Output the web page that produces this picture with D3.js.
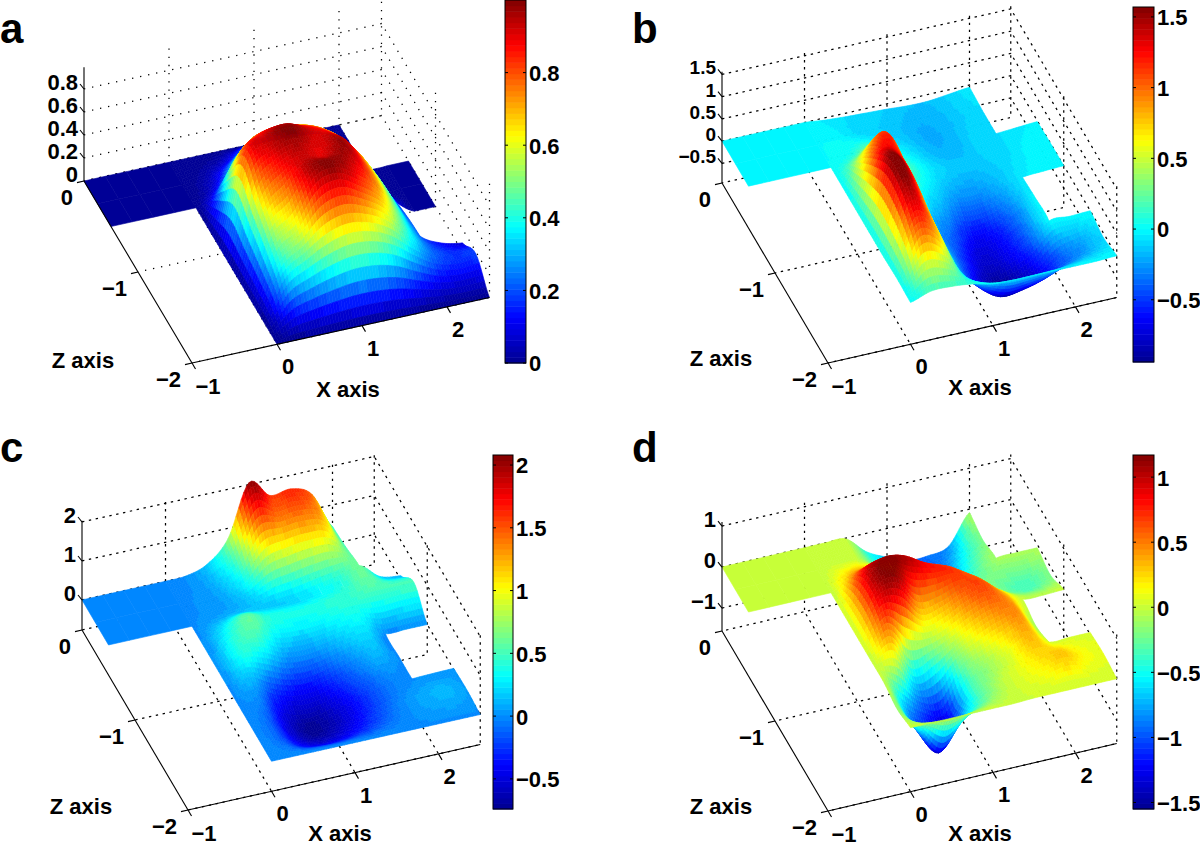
<!DOCTYPE html>
<html><head><meta charset="utf-8">
<script src="https://cdn.jsdelivr.net/npm/d3@7/dist/d3.min.js"></script>
<style>html,body{margin:0;padding:0;background:#fff}svg{display:block}
text{font-family:"Liberation Sans",Arial,sans-serif;font-weight:bold;fill:#000}</style>
</head><body><svg id="chart" width="1200" height="847"></svg>
<script>
// ---------- values ----------
const xValues = [-1,-.75,-.5,-.25,0,.25,.5,.75,1,1.25,1.5,1.75,2,2.25,2.5];
const zValues = [0,-.25,-.5,-.75,-1,-1.25,-1.5,-1.75,-2];
const n = null;
const surfaceA = [
[0,0,0,0,0,0,0,0,0,0,0,0,0,n,n],
[0,0,0,0,0,.03,.1,.22,.28,.27,.22,.15,0,n,n],
[0,0,0,0,0,.13,.38,.52,.55,.5,.42,.28,0,0,0],
[n,n,n,n,0,.5,.72,.75,.75,.7,.58,.38,.03,0,0],
[n,n,n,n,0,.8,.93,.99,.92,.85,.7,.45,.15,0,0],
[n,n,n,n,0,.65,.85,.93,.9,.97,.76,.48,.2,n,n],
[n,n,n,n,0,.5,.66,.93,.98,.88,.72,.45,.22,.12,.08],
[n,n,n,n,0,.33,.45,.55,.6,.58,.5,.35,.22,.17,.18],
[n,n,n,n,0,0,0,0,0,0,0,0,0,0,0]];
const surfaceB = [
[0,0,0,0,0,-.05,-.08,-.1,-.12,-.15,-.15,-.1,-.05,n,n],
[0,0,0,0,0,0,-.05,-.1,-.15,-.2,-.18,-.12,-.08,n,n],
[0,0,0,0,0,.1,.3,.05,-.08,-.18,-.18,-.1,-.08,-.05,-.02],
[n,n,n,n,0,.7,1.1,.25,-.02,-.12,-.15,-.12,-.08,-.02,0],
[n,n,n,n,0,1.2,1.15,.1,-.15,-.3,-.3,-.18,-.05,-.02,0],
[n,n,n,n,0,1.55,1.15,-.1,-.4,-.65,-.6,-.35,-.02,n,n],
[n,n,n,n,0,1.45,.95,-.1,-.55,-.8,-.7,-.45,-.02,-.02,0],
[n,n,n,n,.02,1.0,.75,-.1,-.6,-.9,-.85,-.7,-.42,-.25,-.1],
[n,n,n,n,0,.15,.15,.1,0,-.02,-.02,-.02,-.02,-.02,0]];
const surfaceC = [
[0,0,0,0,0,.02,.2,.74,2.05,1.6,1.65,1.4,.45,n,n],
[0,0,0,0,0,.02,.1,.4,1.1,1.2,1.25,1.15,.5,n,n],
[0,0,0,0,0,.05,.1,.15,.2,.25,.35,.45,.6,.2,.1],
[n,n,n,n,0,.32,.58,.42,.38,.38,.42,.45,.5,.5,.5],
[n,n,n,n,0,.4,.38,.12,.05,.1,.2,.25,0,0,0],
[n,n,n,n,0,.08,-.25,-.42,-.42,-.25,-.05,.1,0,n,n],
[n,n,n,n,0,-.1,-.5,-.72,-.65,-.45,-.22,-.05,0,.02,.03],
[n,n,n,n,0,-.12,-.4,-.5,-.45,-.32,-.15,0,.08,.12,.05],
[n,n,n,n,0,0,0,0,0,0,0,0,0,0,0]];
const surfaceD = [
[0,0,0,0,0,0,-.02,-.45,-.7,-.9,-.9,-.78,-.08,n,n],
[0,0,0,0,0,.02,0,-.3,-.7,-1,-.95,-.55,-.2,n,n],
[0,0,0,0,0,.35,.4,.3,-.3,-.8,-.7,-.35,-.1,-.08,-.08],
[n,n,n,n,0,.9,1.15,1.05,.8,.6,.25,-.1,-.3,-.35,-.2],
[n,n,n,n,0,.9,.95,.35,.4,.6,.65,.3,0,-.02,0],
[n,n,n,n,0,.3,-.45,-.3,-.02,.25,.45,.45,-.1,n,n],
[n,n,n,n,0,-.7,-1.1,-1.25,-.35,-.1,.1,.35,.05,.05,.05],
[n,n,n,n,-.1,-.75,-1.4,-.8,-.35,-.05,.08,.2,.3,.15,.08],
[n,n,n,n,0,0,0,0,0,0,.02,.02,.02,.02,.02]];
const xTicks = [-1,0,1,2];
const zTicks = [0,-1,-2];
const yTicksA = [0,.2,.4,.6,.8], yTicksB = [-.5,0,.5,1,1.5], yTicksC = [0,1,2], yTicksD = [-1,0,1];
const barTicksA = [0,.2,.4,.6,.8], barTicksB = [-.5,0,.5,1,1.5], barTicksC = [-.5,0,.5,1,1.5,2], barTicksD = [-1.5,-1,-.5,0,.5,1];
const colorLimitsA = [0,1], colorLimitsB = [-.94,1.57], colorLimitsC = [-.74,2.08], colorLimitsD = [-1.55,1.17];
const axisLimitsA = [0,.99], axisLimitsB = [-.94,1.56], axisLimitsC = [-.77,2.03], axisLimitsD = [-1.56,1.1];

// ---------- layout ----------
const panels = [
 {name:"a",grid:surfaceA,yTicks:yTicksA,barTicks:barTicksA,clim:colorLimitsA,ylim:axisLimitsA,o:[84,181],ex:[85,-18.7],ez:[54,91],ey:115,yFont:22,
  letter:[0,43],zLab:[83,360],xLab:[348,389],bar:[505,526,0,363],barScale:[363,0],dash:"1.3,6.9",fmt:d=>d===0?"0":d.toFixed(1)},
 {name:"b",grid:surfaceB,yTicks:yTicksB,barTicks:barTicksB,clim:colorLimitsB,ylim:axisLimitsB,o:[722,183],ex:[82.5,-18.7],ez:[53,90],ey:44.5,yFont:19,
  letter:[632,43],zLab:[721,358],xLab:[980,387],bar:[1133,1154,7,362],barScale:[362,7],dash:"2.4,4.6",fmt:d=>String(d)},
 {name:"c",grid:surfaceC,yTicks:yTicksC,barTicks:barTicksC,clim:colorLimitsC,ylim:axisLimitsC,o:[82,630],ex:[83.5,-18.7],ez:[53,90],ey:39,yFont:22,
  letter:[0,462],zLab:[81,806],xLab:[340,833],bar:[493,513,455,809],barScale:[809,455],dash:"2.4,4.6",fmt:d=>String(d)},
 {name:"d",grid:surfaceD,yTicks:yTicksD,barTicks:barTicksD,clim:colorLimitsD,ylim:axisLimitsD,o:[722,631],ex:[82.5,-19.3],ez:[53,90],ey:41,yFont:22,
  letter:[632,462],zLab:[721,806],xLab:[980,833],bar:[1133,1154,455,809],barScale:[809,455],dash:"2.4,4.6",fmt:d=>String(d)}
];
const svg = d3.select("#chart");
const jet = d3.scaleLinear().domain([0,1/8,3/8,5/8,7/8,1])
  .range(["#00008f","#0000ff","#00ffff","#ffff00","#ff0000","#800000"]).clamp(true);
const minus = s => s.replace("-","\u2212");
const TICK = 22, SUB = 8;

function catmull(p0,p1,p2,p3,t){
  return .5*((2*p1)+(-p0+p2)*t+(2*p0-5*p1+4*p2-p3)*t*t+(-p0+3*p1-3*p2+p3)*t*t*t);
}
function drawPanel(P){
  const g = svg.append("g").attr("class","panel-"+P.name);
  const xs = [xValues[0],xValues[xValues.length-1]], zs=[zValues[0],zValues[zValues.length-1]];
  const xSX = d3.scaleLinear().domain(xs).range([0,P.ex[0]*3.5]);
  const xSY = d3.scaleLinear().domain(xs).range([0,P.ex[1]*3.5]);
  const zSX = d3.scaleLinear().domain(zs).range([0,P.ez[0]*2]);
  const zSY = d3.scaleLinear().domain(zs).range([0,P.ez[1]*2]);
  const ySY = d3.scaleLinear().domain(P.ylim).range([0,-(P.ylim[1]-P.ylim[0])*P.ey]);
  const pr = (x,y,z)=>[P.o[0]+xSX(x)+zSX(z), P.o[1]+xSY(x)+zSY(z)+ySY(y)];
  const line = d3.line();
  const yLo=P.ylim[0], yHi=P.ylim[1], xL=xs[0], xR=xs[1], zB=zs[0], zF=zs[1];

  // dotted box grid
  const gridSegs=[];
  P.yTicks.forEach(y=>gridSegs.push([pr(xL,y,zB),pr(xR,y,zB),pr(xR,y,zF)]));
  xTicks.slice(1).forEach(x=>{gridSegs.push([pr(x,yHi,zB),pr(x,yLo,zB),pr(x,yLo,zF)]);});
  gridSegs.push([pr(xR,yHi,zB),pr(xR,yLo,zB),pr(xL,yLo,zB)]);
  zTicks.slice(1).forEach(z=>{gridSegs.push([pr(xR,yHi,z),pr(xR,yLo,z),pr(xL,yLo,z)]);});
  g.append("g").selectAll("path").data(gridSegs).join("path").attr("d",line)
    .attr("fill","none").attr("stroke","#000").attr("stroke-width",1.25).attr("stroke-dasharray",P.dash);

  // surface
  const G=P.grid, nz=zValues.length, nx=xValues.length;
  const color=v=>{
    const t=(v-P.clim[0])/(P.clim[1]-P.clim[0]);
    const idx=Math.max(0,Math.min(63,Math.floor(t*64)));
    return jet((idx+.5)/64);
  };
  const cells=[];
  for(let j=0;j<nz-1;j++)for(let i=0;i<nx-1;i++){
    if(G[j][i]==null||G[j][i+1]==null||G[j+1][i]==null||G[j+1][i+1]==null)continue;
    const val=(r,c)=>{
      if(r>=0&&r<nz&&c>=0&&c<nx&&G[r][c]!=null)return G[r][c];
      return G[Math.max(j,Math.min(j+1,r))][Math.max(i,Math.min(i+1,c))];
    };
    const lo=Math.min(G[j][i],G[j][i+1],G[j+1][i],G[j+1][i+1]);
    const hi=Math.max(G[j][i],G[j][i+1],G[j+1][i],G[j+1][i+1]);
    const pad=(hi-lo)*.12;
    const sample=(fx,fz)=>{
      const rows=[j-1,j,j+1,j+2].map(r=>catmull(val(r,i-1),val(r,i),val(r,i+1),val(r,i+2),fx));
      return Math.max(lo-pad,Math.min(hi+pad,catmull(rows[0],rows[1],rows[2],rows[3],fz)));
    };
    const flat=hi-lo<1e-6;
    const S=flat?1:SUB;
    for(let a=0;a<S;a++)for(let b=0;b<S;b++){
      const fx=[a/S,(a+1)/S], fz=[b/S,(b+1)/S];
      const X=f=>xValues[i]+(xValues[i+1]-xValues[i])*f, Z=f=>zValues[j]+(zValues[j+1]-zValues[j])*f;
      const vs=[[0,0],[1,0],[1,1],[0,1]].map(([p,q])=>({x:X(fx[p]),z:Z(fz[q]),y:flat?lo:sample(fx[p],fz[q])}));
      const mean=d3.mean(vs,d=>d.y);
      const cx=d3.mean(vs,d=>d.x), cz=d3.mean(vs,d=>d.z);
      cells.push({pts:vs.map(d=>pr(d.x,d.y,d.z)),v:mean,depth:pr(cx,yLo,cz)[1]});
    }
  }
  cells.sort((a,b)=>a.depth-b.depth);
  g.append("g").selectAll("path").data(cells).join("path")
    .attr("d",d=>line(d.pts)+"Z").attr("fill",d=>color(d.v)).attr("stroke",d=>color(d.v)).attr("stroke-width",.6);

  // axes
  const ax=g.append("g").attr("stroke","#000").attr("fill","none").attr("stroke-width",1.1);
  const axes=[[pr(xL,yHi,zB),pr(xL,yLo,zB)],[pr(xL,yLo,zB),pr(xL,yLo,zF)],[pr(xL,yLo,zF),pr(xR,yLo,zF)]];
  ax.selectAll("path.ax").data(axes).join("path").attr("class","ax").attr("d",line);
  const tl=g.append("g");
  P.yTicks.forEach(y=>{const p=pr(xL,y,zB);
    if(Math.abs(y-yLo)>1e-6) ax.append("path").attr("d",line([p,[p[0]-4,p[1]-5]]));
    tl.append("text").attr("x",p[0]-6).attr("y",p[1]-7).attr("dy",".36em").attr("text-anchor","end")
      .attr("font-size",P.yFont).text(minus(P.fmt(y)));
  });
  zTicks.forEach(z=>{const p=pr(xL,yLo,z);
    ax.append("path").attr("d",line([p,[p[0]-7,p[1]+1.6]]));
    tl.append("text").attr("x",p[0]-11).attr("y",p[1]+16).attr("dy",".36em").attr("text-anchor","end")
      .attr("font-size",TICK).text(minus(String(z)));
  });
  xTicks.forEach(x=>{const p=pr(x,yLo,zF);
    ax.append("path").attr("d",line([p,[p[0]+3.5,p[1]+6]]));
    tl.append("text").attr("x",p[0]+(x<0?16:11)).attr("y",p[1]+(x<0?23:22)).attr("dy",".36em").attr("text-anchor","middle")
      .attr("font-size",TICK).text(minus(String(x)));
  });
  tl.append("text").attr("x",P.zLab[0]).attr("y",P.zLab[1]).attr("dy",".36em").attr("text-anchor","middle").attr("font-size",22).text("Z axis");
  tl.append("text").attr("x",P.xLab[0]).attr("y",P.xLab[1]).attr("dy",".36em").attr("text-anchor","middle").attr("font-size",22).text("X axis");
  tl.append("text").attr("x",P.letter[0]).attr("y",P.letter[1]).attr("font-size",42).text(P.name);

  // colour bar
  const [bx0,bx1,by0,by1]=P.bar;
  const bs=d3.scaleLinear().domain(P.clim).range(P.barScale);
  const bands=d3.range(64);
  const bg=svg.append("g").attr("class","bar-"+P.name);
  const bh=(by1-by0)/64;
  bg.selectAll("rect").data(bands).join("rect")
    .attr("x",bx0).attr("width",bx1-bx0)
    .attr("y",d=>by1-(d+1)*bh).attr("height",bh+.5)
    .attr("fill",d=>jet((d+.5)/64));
  bg.append("rect").attr("x",bx0).attr("y",by0).attr("width",bx1-bx0).attr("height",by1-by0)
    .attr("fill","none").attr("stroke","#000").attr("stroke-width",1);
  const axisG=bg.append("g").attr("transform",`translate(${bx1},0)`)
    .call(d3.axisRight(bs).tickValues(P.barTicks).tickSize(0).tickPadding(3).tickFormat(d=>minus(P.fmt(d))));
  axisG.select(".domain").remove();
  axisG.selectAll("text").attr("font-size",TICK).attr("font-family",null).attr("dy",".36em").style("font-weight","bold");
  P.barTicks.forEach(t=>{
    bg.append("path").attr("d",line([[bx0,bs(t)],[bx0+3,bs(t)]])).attr("stroke","#000");
    bg.append("path").attr("d",line([[bx1-3,bs(t)],[bx1,bs(t)]])).attr("stroke","#000");
  });
}
panels.forEach(drawPanel);
</script></body></html>
